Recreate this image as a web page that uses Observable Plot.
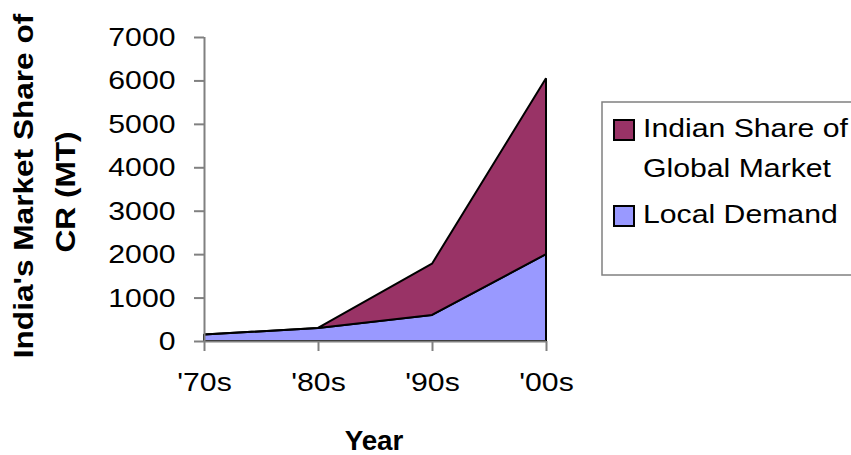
<!DOCTYPE html>
<html>
<head>
<meta charset="utf-8">
<script src="https://cdn.jsdelivr.net/npm/d3@7"></script>
<script src="https://cdn.jsdelivr.net/npm/@observablehq/plot@0.6"></script>
<style>
  html, body { margin: 0; padding: 0; background: #fff; }
  #chart svg { display: block; font-family: "Liberation Sans", Arial, sans-serif; }
</style>
</head>
<body>
<div id="chart"></div>
<script>
// ---- data ----
const decades = ["'70s", "'80s", "'90s", "'00s"];
const seriesNames = ["Local Demand", "Indian Share of Global Market"];
const localDemand = [150, 300, 600, 2000];
const indianShare = [0, 0, 1180, 4050];
const seriesColors = ["#9999FF", "#993366"];
const yTicks = [0, 1000, 2000, 3000, 4000, 5000, 6000, 7000];
const legendLines = [["Indian Share of", "Global Market"], ["Local Demand"]];
const legendSeries = ["Indian Share of Global Market", "Local Demand"];

const rows = [];
decades.forEach((d, i) => {
  rows.push({decade: d, series: seriesNames[0], value: localDemand[i]});
  rows.push({decade: d, series: seriesNames[1], value: indianShare[i]});
});

const SX = 1.14; // horizontal stretch of text, as in reference
const FS = 26.5;

const chart = Plot.plot({
  width: 851,
  height: 455,
  marginLeft: 204,
  marginRight: 305,
  marginTop: 37,
  marginBottom: 114,
  style: {fontFamily: "Liberation Sans, Arial, sans-serif", fontSize: FS + "px", color: "black", background: "white"},
  x: {type: "point", domain: decades, padding: 0, axis: null},
  y: {domain: [0, 7000], axis: null},
  color: {domain: seriesNames, range: seriesColors},
  marks: [
    Plot.areaY(rows, {x: "decade", y: "value", fill: "series", z: "series", order: seriesNames,
      stroke: "black", strokeWidth: 2, strokeLinejoin: "miter"}),
    Plot.ruleY([0], {stroke: "#808080", strokeWidth: 2}),
    Plot.ruleX([decades[0]], {y1: 0, y2: 7000, stroke: "#808080", strokeWidth: 2}),
    Plot.axisY({ticks: yTicks, tickSize: 10, tickPadding: 19, stroke: "#808080", strokeWidth: 2,
      fontSize: FS, label: null, tickFormat: d => String(d)}),
    Plot.axisX({tickSize: 10, tickPadding: 21, stroke: "#808080", strokeWidth: 2,
      fontSize: FS, label: null})
  ]
});

const svg = d3.select(chart);

// Horizontal stretch of Plot's texts (about each anchor point)
svg.selectAll("text").each(function() {
  const t = d3.select(this);
  const tr = t.attr("transform") || "";
  t.attr("transform", `${tr} scale(${SX},1)`);
});

// Titles
svg.append("text")
  .attr("transform", `translate(33,186) rotate(-90) scale(1.17,1)`)
  .attr("text-anchor", "middle").attr("font-weight", "bold").attr("font-size", 27)
  .text("India's Market Share of");
svg.append("text")
  .attr("transform", `translate(75,192) rotate(-90) scale(1.17,1)`)
  .attr("text-anchor", "middle").attr("font-weight", "bold").attr("font-size", 27)
  .text("CR (MT)");
svg.append("text")
  .attr("transform", `translate(374,450) scale(1.03,1)`)
  .attr("text-anchor", "middle").attr("font-weight", "bold").attr("font-size", 27)
  .text("Year");

// Legend
const lg = svg.append("g").attr("text-anchor", "start");
lg.append("rect").attr("x", 602).attr("y", 102).attr("width", 270).attr("height", 173)
  .attr("fill", "white").attr("stroke", "#808080").attr("stroke-width", 1.5);
const swatchY = [120, 206];
legendSeries.forEach((s, k) => {
  const col = seriesColors[seriesNames.indexOf(s)];
  lg.append("rect").attr("x", 614).attr("y", swatchY[k]).attr("width", 20).attr("height", 20)
    .attr("fill", col).attr("stroke", "black").attr("stroke-width", 2);
  legendLines[k].forEach((line, j) => {
    lg.append("text").attr("transform", `translate(643,${swatchY[k] + 17 + j * 40}) scale(${SX},1)`)
      .attr("text-anchor", "start").attr("font-size", FS).attr("fill", "black").text(line);
  });
});

document.getElementById("chart").appendChild(chart);
</script>
</body>
</html>
